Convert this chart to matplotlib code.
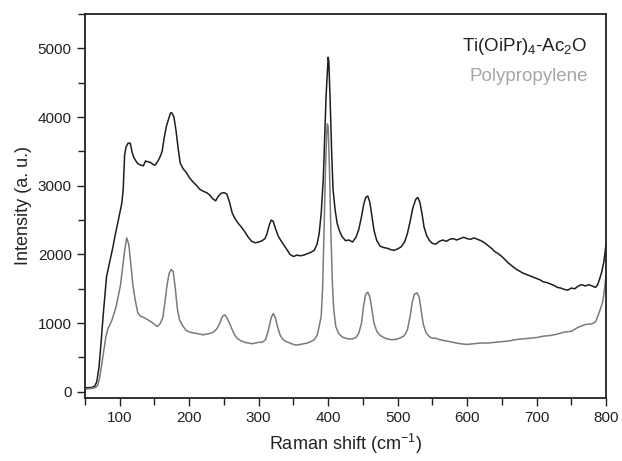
import matplotlib
matplotlib.use("Agg")
import matplotlib.pyplot as plt
from matplotlib.ticker import MultipleLocator

plt.rcParams['font.family'] = ['Liberation Sans', 'DejaVu Sans']
plt.rcParams['mathtext.fontset'] = 'custom'
plt.rcParams['mathtext.rm'] = 'Liberation Sans'
plt.rcParams['mathtext.it'] = 'Liberation Sans'
plt.rcParams['mathtext.default'] = 'regular'

# Ti(OiPr)4-Ac2O spectrum
ti_x = [50, 55, 60, 64, 67, 70, 73, 76, 79, 81, 84, 86, 90, 93, 97, 100, 103, 105, 107, 109,
        112, 115, 118, 120, 122, 126, 130, 134, 137, 140, 144, 148, 151, 155, 158, 161, 164,
        167, 170, 173, 175, 178, 181, 184, 187, 191, 196, 200, 205, 210, 215, 220, 225, 230,
        234, 238, 242, 246, 250, 254, 258, 262, 266, 270, 275, 280, 285, 290, 295, 300, 305,
        309, 312, 315, 318, 321, 324, 328, 332, 336, 340, 345, 350, 355, 360, 365, 370, 375,
        380, 384, 387, 390, 393, 395, 397, 399, 400, 401, 403, 405, 407, 410, 413, 416, 420,
        425, 430, 435, 440, 444, 448, 451, 454, 457, 460, 463, 466, 470, 475, 480, 485, 490,
        495, 500, 505, 510, 514, 518, 522, 526, 529, 532, 535, 538, 542, 546, 550, 555, 560,
        565, 570, 575, 580, 585, 590, 595, 600, 605, 610, 615, 620, 625, 630, 635, 640, 645,
        650, 655, 660, 665, 670, 675, 680, 685, 690, 695, 700, 705, 710, 715, 720, 725, 730,
        735, 740, 745, 750, 755, 760, 765, 770, 775, 780, 785, 788, 791, 794, 797, 800]
ti_y = [60, 60, 65, 80, 150, 350, 700, 1100, 1450, 1680, 1820, 1920, 2100, 2260, 2450, 2600,
        2750, 2950, 3450, 3560, 3620, 3620, 3480, 3420, 3380, 3320, 3300, 3290, 3360, 3350,
        3340, 3310, 3300, 3360, 3420, 3500, 3700, 3860, 3960, 4060, 4060, 4000, 3800, 3550,
        3330, 3250, 3190, 3120, 3060, 3010, 2950, 2920, 2900, 2860, 2810, 2780, 2850, 2890,
        2900, 2880, 2760, 2600, 2520, 2460, 2400, 2330, 2250, 2190, 2170, 2180, 2200, 2230,
        2300, 2420, 2500, 2480, 2380, 2270, 2200, 2140, 2080, 2000, 1970, 1990, 1980, 1990,
        2010, 2030, 2060, 2150, 2300, 2600, 3100, 3700, 4300, 4700, 4870, 4800, 4200, 3500,
        2950, 2650, 2450, 2350, 2260, 2200, 2210, 2180, 2250, 2360, 2550, 2720, 2830, 2850,
        2760, 2560, 2350, 2200, 2120, 2100, 2090, 2070, 2060, 2080, 2110, 2180, 2300, 2480,
        2680, 2800, 2830, 2760, 2600, 2400, 2270, 2200, 2160, 2150, 2190, 2210, 2190, 2220,
        2230, 2210, 2230, 2250, 2230, 2220, 2240, 2220, 2200, 2170, 2130, 2090, 2040, 2010,
        1970, 1920, 1870, 1830, 1790, 1760, 1730, 1710, 1690, 1670, 1650, 1630, 1600, 1590,
        1570, 1550, 1520, 1510, 1490, 1480, 1510, 1500, 1540, 1560, 1540, 1560, 1540, 1520,
        1560, 1650, 1750, 1900, 2150]

# polypropylene reference spectrum
pp_x = [50, 55, 60, 65, 68, 71, 74, 77, 80, 83, 86, 89, 92, 95, 98, 101, 104, 107, 110, 113,
        116, 119, 122, 126, 130, 135, 140, 145, 150, 154, 158, 162, 165, 168, 171, 174, 177,
        180, 183, 186, 190, 195, 200, 205, 210, 215, 220, 225, 230, 235, 240, 244, 248, 251,
        254, 258, 262, 266, 270, 275, 280, 285, 290, 295, 300, 305, 310, 314, 318, 321, 324,
        327, 331, 335, 340, 345, 350, 355, 360, 365, 370, 375, 380, 384, 387, 390, 392, 394,
        396, 398, 399, 400, 402, 404, 406, 408, 411, 415, 420, 425, 430, 435, 440, 444, 448,
        451, 454, 457, 460, 463, 466, 470, 475, 480, 485, 490, 495, 500, 505, 510, 514, 518,
        521, 524, 528, 531, 534, 537, 541, 546, 550, 555, 560, 570, 580, 590, 600, 610, 620,
        630, 640, 650, 660, 670, 680, 690, 700, 710, 720, 730, 740, 750, 760, 770, 780, 785,
        790, 795, 798, 800]
pp_y = [40, 45, 50, 60, 90, 200, 400, 600, 800, 920, 980, 1050, 1150, 1250, 1400, 1550, 1800,
        2050, 2240, 2150, 1850, 1550, 1350, 1150, 1100, 1080, 1050, 1020, 980, 950, 990, 1080,
        1300, 1550, 1720, 1780, 1750, 1500, 1200, 1050, 970, 900, 870, 860, 850, 840, 830, 840,
        850, 870, 920, 1000, 1100, 1120, 1080, 1000, 900, 820, 770, 740, 720, 710, 700, 710,
        720, 720, 760, 900, 1080, 1140, 1080, 950, 820, 760, 730, 710, 690, 680, 690, 700, 710,
        730, 760, 820, 950, 1100, 1500, 2300, 3200, 3800, 3900, 3850, 3200, 2300, 1600, 1200,
        950, 850, 800, 780, 770, 770, 790, 850, 1000, 1250, 1420, 1450, 1380, 1200, 1000, 880,
        820, 790, 770, 760, 760, 770, 790, 820, 900, 1100, 1300, 1420, 1440, 1380, 1180, 980,
        860, 800, 780, 780, 760, 740, 720, 700, 690, 700, 710, 710, 720, 730, 740, 760, 770,
        780, 790, 810, 820, 840, 870, 880, 940, 980, 990, 1020, 1150, 1300, 1500, 1700]

fig = plt.figure(figsize=(6.22, 4.61), dpi=100)
ax = fig.add_axes([0.1367, 0.1367, 0.8376, 0.8329])

ax.plot(ti_x, ti_y, color='#1e1e1e', lw=1.1)
ax.plot(pp_x, pp_y, color='#7a7a7a', lw=1.1)

ax.set_xlim(50, 800)
ax.set_ylim(-90, 5500)
ax.xaxis.set_major_locator(MultipleLocator(100))
ax.xaxis.set_minor_locator(MultipleLocator(50))
ax.yaxis.set_major_locator(MultipleLocator(1000))
ax.yaxis.set_minor_locator(MultipleLocator(500))
ax.tick_params(which='both', direction='out', top=False, right=False,
               width=1.0, color='#222222', labelsize=11, labelcolor='#222222')
ax.tick_params(which='major', length=6)
ax.tick_params(which='minor', length=5)
for s in ax.spines.values():
    s.set_linewidth(1.3)
    s.set_color('#222222')

ax.set_xlabel(r'Raman shift (cm$^{-1}$)', fontsize=13, color='#222222', labelpad=5)
ax.set_ylabel('Intensity (a. u.)', fontsize=13, color='#222222', labelpad=4)

ax.text(0.965, 0.915, r'Ti(OiPr)$_4$-Ac$_2$O', transform=ax.transAxes, ha='right',
        va='center', fontsize=13.5, color='#222222')
ax.text(0.965, 0.838, 'Polypropylene', transform=ax.transAxes, ha='right',
        va='center', fontsize=13.5, color='#a6a6a6')

fig.savefig('out.png', dpi=100)
